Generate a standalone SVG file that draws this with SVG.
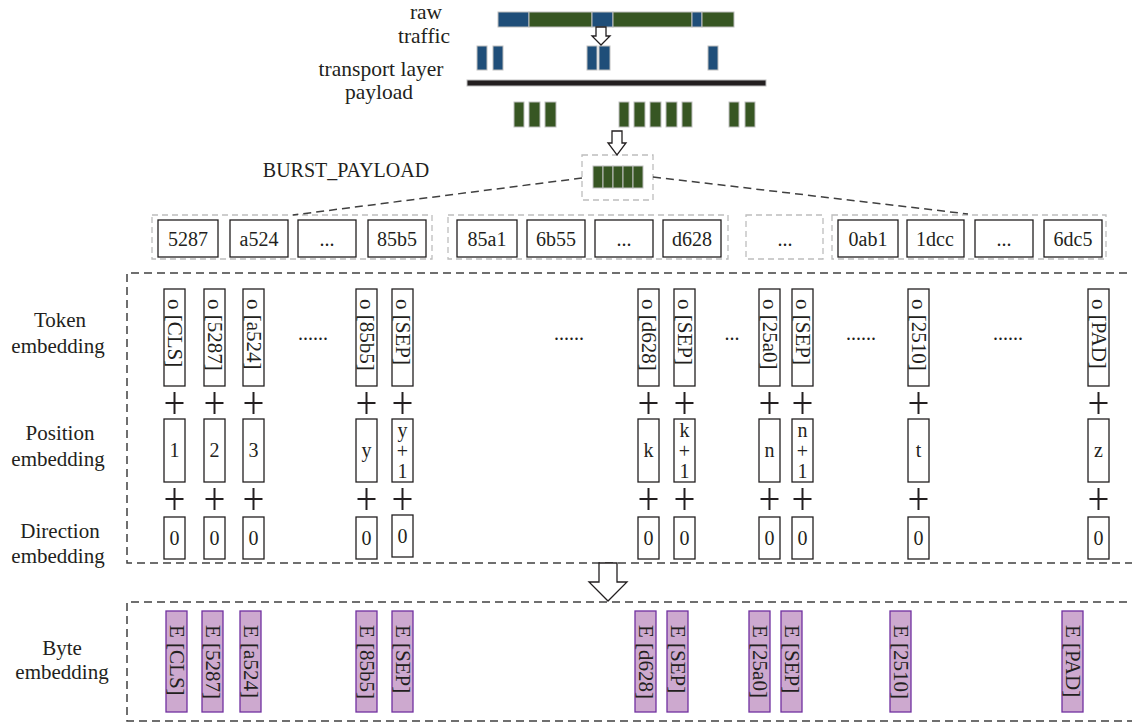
<svg xmlns="http://www.w3.org/2000/svg" width="1132" height="725" viewBox="0 0 1132 725">
<style>
text{font-family:"Liberation Serif","Times New Roman",serif;fill:#231f20}
.lbl{font-size:21px;text-anchor:middle}
.top{font-size:21.5px;text-anchor:middle}
.bx{font-size:20px;text-anchor:middle}
.rt{font-size:21px;dominant-baseline:central}
.blue{fill:#1f4e79;stroke:#bfbfbf;stroke-width:1}
.green{fill:#375623;stroke:#bfbfbf;stroke-width:1}
.gbox{fill:none;stroke:#bdbdbd;stroke-width:1.3;stroke-dasharray:6 4}
.wbox{fill:#fff;stroke:#231f20;stroke-width:1.3}
.pbox{fill:#cda9cf;stroke:#7030a0;stroke-width:1.3}
.dash{fill:none;stroke:#404040;stroke-width:1.5;stroke-dasharray:8 5}
.plus{stroke:#231f20;stroke-width:2}
.harrow{fill:#fff;stroke:#231f20;stroke-width:1.3}
</style>
<defs>
<g id="plus"><line class="plus" x1="-9" y1="0" x2="9" y2="0"/><line class="plus" x1="0" y1="-11" x2="0" y2="11"/></g>
</defs>

<g id="raw-traffic">
<rect class="blue" x="498" y="12" width="31" height="15"/>
<rect class="green" x="529" y="12" width="63" height="15"/>
<rect class="blue" x="592" y="12" width="21" height="15"/>
<rect class="green" x="613" y="12" width="79" height="15"/>
<rect class="blue" x="692" y="12" width="10" height="15"/>
<rect class="green" x="702" y="12" width="32" height="15"/>
<text class="top" x="426" y="19">raw</text>
<text class="top" x="424" y="43">traffic</text>
</g>

<g id="packets">
<rect class="blue" x="477" y="46" width="10" height="24"/>
<rect class="blue" x="493" y="46" width="10" height="24"/>
<rect class="blue" x="587" y="46" width="10" height="24"/>
<rect class="blue" x="599" y="46" width="11" height="24"/>
<rect class="blue" x="708" y="46" width="10" height="24"/>
<rect x="467" y="80" width="299" height="6" fill="#231f20" stroke="#bfbfbf" stroke-width="1"/>
<text class="top" x="381" y="76">transport layer</text>
<text class="top" x="379" y="99">payload</text>
</g>

<g id="payloads">
<rect class="green" x="514" y="102" width="10" height="25"/>
<rect class="green" x="529" y="102" width="11" height="25"/>
<rect class="green" x="545" y="102" width="11" height="25"/>
<rect class="green" x="619" y="102" width="10" height="25"/>
<rect class="green" x="634" y="102" width="11" height="25"/>
<rect class="green" x="650" y="102" width="11" height="25"/>
<rect class="green" x="666" y="102" width="11" height="25"/>
<rect class="green" x="682" y="102" width="10" height="25"/>
<rect class="green" x="729" y="102" width="10" height="25"/>
<rect class="green" x="745" y="102" width="10" height="25"/>
</g>

<g id="burst">
<text class="lbl" x="346" y="177" style="font-size:20px">BURST_PAYLOAD</text>
<rect class="gbox" x="582" y="155" width="71" height="45"/>
<rect class="green" x="593" y="166" width="10" height="22"/>
<rect class="green" x="603" y="166" width="10" height="22"/>
<rect class="green" x="613" y="166" width="10" height="22"/>
<rect class="green" x="623" y="166" width="10" height="22"/>
<rect class="green" x="633" y="166" width="10" height="22"/>
</g>

<g id="bytes-row">
<rect class="gbox" x="152" y="215" width="280" height="44"/>
<rect class="gbox" x="448" y="215" width="280" height="44"/>
<rect class="gbox" x="746" y="215" width="77" height="44"/>
<rect class="gbox" x="832" y="215" width="274" height="44"/>
<rect class="wbox" x="158" y="220" width="60" height="37"/><text class="bx" x="188" y="246">5287</text>
<rect class="wbox" x="230" y="220" width="58" height="37"/><text class="bx" x="259" y="246">a524</text>
<rect class="wbox" x="298" y="220" width="58" height="37"/><text class="bx" x="327" y="246">...</text>
<rect class="wbox" x="368" y="220" width="58" height="37"/><text class="bx" x="397" y="246">85b5</text>
<rect class="wbox" x="457" y="220" width="60" height="37"/><text class="bx" x="487" y="246">85a1</text>
<rect class="wbox" x="527" y="220" width="58" height="37"/><text class="bx" x="556" y="246">6b55</text>
<rect class="wbox" x="595" y="220" width="58" height="37"/><text class="bx" x="624" y="246">...</text>
<rect class="wbox" x="663" y="220" width="58" height="37"/><text class="bx" x="692" y="246">d628</text>
<text class="bx" x="785" y="246">...</text>
<rect class="wbox" x="838" y="220" width="60" height="37"/><text class="bx" x="868" y="246">0ab1</text>
<rect class="wbox" x="907" y="220" width="57" height="37"/><text class="bx" x="935" y="246">1dcc</text>
<rect class="wbox" x="975" y="220" width="58" height="37"/><text class="bx" x="1004" y="246">...</text>
<rect class="wbox" x="1044" y="220" width="58" height="37"/><text class="bx" x="1073" y="246">6dc5</text>
</g>

<g id="labels">
<text class="lbl" x="60" y="327">Token</text>
<text class="lbl" x="58" y="353">embedding</text>
<text class="lbl" x="60" y="440">Position</text>
<text class="lbl" x="58" y="466">embedding</text>
<text class="lbl" x="60" y="538">Direction</text>
<text class="lbl" x="58" y="563">embedding</text>
<text class="lbl" x="62" y="655">Byte</text>
<text class="lbl" x="62" y="679">embedding</text>
</g>

<g id="token-embedding">
<rect class="wbox" x="164" y="289" width="21" height="97"/><text class="rt" transform="translate(174.5 299) rotate(90)">o [CLS]</text>
<rect class="wbox" x="204" y="289" width="21" height="97"/><text class="rt" transform="translate(214.5 299) rotate(90)">o [5287]</text>
<rect class="wbox" x="243" y="289" width="21" height="97"/><text class="rt" transform="translate(253.5 299) rotate(90)">o [a524]</text>
<rect class="wbox" x="356" y="289" width="21" height="97"/><text class="rt" transform="translate(366.5 299) rotate(90)">o [85b5]</text>
<rect class="wbox" x="392" y="289" width="21" height="97"/><text class="rt" transform="translate(402.5 299) rotate(90)">o [SEP]</text>
<rect class="wbox" x="638" y="289" width="21" height="97"/><text class="rt" transform="translate(648.5 299) rotate(90)">o [d628]</text>
<rect class="wbox" x="674" y="289" width="21" height="97"/><text class="rt" transform="translate(684.5 299) rotate(90)">o [SEP]</text>
<rect class="wbox" x="759" y="289" width="21" height="97"/><text class="rt" transform="translate(769.5 299) rotate(90)">o [25a0]</text>
<rect class="wbox" x="792" y="289" width="21" height="97"/><text class="rt" transform="translate(802.5 299) rotate(90)">o [SEP]</text>
<rect class="wbox" x="908" y="289" width="21" height="97"/><text class="rt" transform="translate(918.5 299) rotate(90)">o [2510]</text>
<rect class="wbox" x="1088" y="289" width="21" height="97"/><text class="rt" transform="translate(1098.5 299) rotate(90)">o [PAD]</text>
<text class="bx" x="313" y="340">......</text>
<text class="bx" x="569" y="340">......</text>
<text class="bx" x="732" y="340">...</text>
<text class="bx" x="861" y="340">......</text>
<text class="bx" x="1008" y="340">......</text>
</g>

<g id="plus-signs">
<use href="#plus" x="174.5" y="403"/><use href="#plus" x="214.5" y="403"/><use href="#plus" x="253.5" y="403"/>
<use href="#plus" x="366.5" y="403"/><use href="#plus" x="402.5" y="403"/><use href="#plus" x="648.5" y="403"/>
<use href="#plus" x="684.5" y="403"/><use href="#plus" x="769.5" y="403"/><use href="#plus" x="802.5" y="403"/>
<use href="#plus" x="918.5" y="403"/><use href="#plus" x="1098.5" y="403"/>
<use href="#plus" x="174.5" y="499"/><use href="#plus" x="214.5" y="499"/><use href="#plus" x="253.5" y="499"/>
<use href="#plus" x="366.5" y="499"/><use href="#plus" x="402.5" y="499"/><use href="#plus" x="648.5" y="499"/>
<use href="#plus" x="684.5" y="499"/><use href="#plus" x="769.5" y="499"/><use href="#plus" x="802.5" y="499"/>
<use href="#plus" x="918.5" y="499"/><use href="#plus" x="1098.5" y="499"/>
</g>

<g id="position-embedding">
<rect class="wbox" x="164" y="419" width="21" height="63"/><text class="bx" x="174.5" y="457">1</text>
<rect class="wbox" x="204" y="419" width="21" height="63"/><text class="bx" x="214.5" y="457">2</text>
<rect class="wbox" x="243" y="419" width="21" height="63"/><text class="bx" x="253.5" y="457">3</text>
<rect class="wbox" x="356" y="419" width="21" height="63"/><text class="bx" x="366.5" y="457">y</text>
<rect class="wbox" x="392" y="419" width="21" height="63"/><text class="bx" x="402.5" y="437">y<tspan x="402.5" y="458">+</tspan><tspan x="402.5" y="478">1</tspan></text>
<rect class="wbox" x="638" y="419" width="21" height="63"/><text class="bx" x="648.5" y="457">k</text>
<rect class="wbox" x="674" y="419" width="21" height="63"/><text class="bx" x="684.5" y="437">k<tspan x="684.5" y="458">+</tspan><tspan x="684.5" y="478">1</tspan></text>
<rect class="wbox" x="759" y="419" width="21" height="63"/><text class="bx" x="769.5" y="457">n</text>
<rect class="wbox" x="792" y="419" width="21" height="63"/><text class="bx" x="802.5" y="437">n<tspan x="802.5" y="458">+</tspan><tspan x="802.5" y="478">1</tspan></text>
<rect class="wbox" x="908" y="419" width="21" height="63"/><text class="bx" x="918.5" y="457">t</text>
<rect class="wbox" x="1088" y="419" width="21" height="63"/><text class="bx" x="1098.5" y="457">z</text>
</g>

<g id="direction-embedding">
<rect class="wbox" x="164" y="517" width="21" height="42"/><text class="bx" x="174.5" y="545">0</text>
<rect class="wbox" x="204" y="517" width="21" height="42"/><text class="bx" x="214.5" y="545">0</text>
<rect class="wbox" x="243" y="517" width="21" height="42"/><text class="bx" x="253.5" y="545">0</text>
<rect class="wbox" x="356" y="517" width="21" height="42"/><text class="bx" x="366.5" y="545">0</text>
<rect class="wbox" x="392" y="515" width="21" height="42"/><text class="bx" x="402.5" y="543">0</text>
<rect class="wbox" x="638" y="517" width="21" height="42"/><text class="bx" x="648.5" y="545">0</text>
<rect class="wbox" x="674" y="517" width="21" height="42"/><text class="bx" x="684.5" y="545">0</text>
<rect class="wbox" x="759" y="517" width="21" height="42"/><text class="bx" x="769.5" y="545">0</text>
<rect class="wbox" x="792" y="517" width="21" height="42"/><text class="bx" x="802.5" y="545">0</text>
<rect class="wbox" x="908" y="517" width="21" height="42"/><text class="bx" x="918.5" y="545">0</text>
<rect class="wbox" x="1088" y="517" width="21" height="42"/><text class="bx" x="1098.5" y="545">0</text>
</g>

<g id="byte-embedding">
<rect class="pbox" x="166" y="611" width="21" height="101"/><text class="rt" transform="translate(176.5 625) rotate(90)">E [CLS]</text>
<rect class="pbox" x="202" y="611" width="21" height="101"/><text class="rt" transform="translate(212.5 625) rotate(90)">E [5287]</text>
<rect class="pbox" x="240" y="611" width="21" height="101"/><text class="rt" transform="translate(250.5 625) rotate(90)">E [a524]</text>
<rect class="pbox" x="356" y="611" width="21" height="101"/><text class="rt" transform="translate(366.5 625) rotate(90)">E [85b5]</text>
<rect class="pbox" x="392" y="611" width="21" height="101"/><text class="rt" transform="translate(402.5 625) rotate(90)">E [SEP]</text>
<rect class="pbox" x="635" y="611" width="21" height="101"/><text class="rt" transform="translate(645.5 625) rotate(90)">E [d628]</text>
<rect class="pbox" x="667" y="611" width="21" height="101"/><text class="rt" transform="translate(677.5 625) rotate(90)">E [SEP]</text>
<rect class="pbox" x="749" y="611" width="21" height="101"/><text class="rt" transform="translate(759.5 625) rotate(90)">E [25a0]</text>
<rect class="pbox" x="781" y="611" width="21" height="101"/><text class="rt" transform="translate(791.5 625) rotate(90)">E [SEP]</text>
<rect class="pbox" x="890" y="611" width="21" height="101"/><text class="rt" transform="translate(900.5 625) rotate(90)">E [2510]</text>
<rect class="pbox" x="1062" y="611" width="21" height="101"/><text class="rt" transform="translate(1072.5 625) rotate(90)">E [PAD]</text>
</g>

<g id="connectors">
<path class="harrow" d="M596 27 H606 V36 H610 L601 45 L592 36 H596 Z"/>
<path class="harrow" d="M612 131 H622 V143 H626 L617 155 L608 143 H612 Z"/>
<line class="dash" x1="582" y1="178" x2="293" y2="215"/>
<line class="dash" x1="653" y1="177" x2="968" y2="214"/>
<path class="dash" d="M1140 273 H127 V563 H1140"/>
<path class="dash" d="M1140 602 H127 V721 H1140"/>
<path class="harrow" d="M599 563 H617 V582 H627 L608 601 L589 582 H599 Z"/>
</g>
</svg>
